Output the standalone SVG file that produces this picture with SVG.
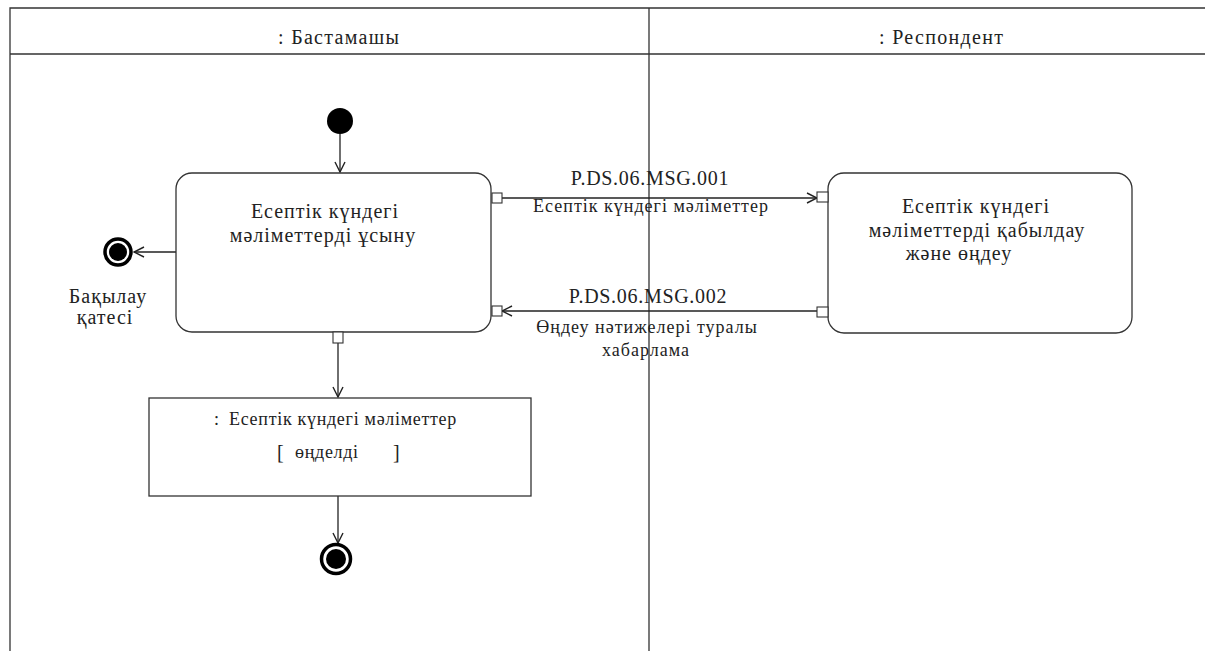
<svg xmlns="http://www.w3.org/2000/svg" width="1205" height="651" viewBox="0 0 1205 651">
<style>
text{font-family:"Liberation Serif","Times New Roman","DejaVu Serif",serif;fill:#222}
.lane{stroke:#333;stroke-width:1.3;fill:none}
.act{fill:#fff;stroke:#333;stroke-width:1.3}
.pin{fill:#fff;stroke:#333;stroke-width:1.1}
.edge{stroke:#222;stroke-width:1.3;fill:none;marker-end:url(#arr)}
.hd{font-size:20px;letter-spacing:1.3px}
.big{font-size:20px;letter-spacing:1px}
.msg{font-size:20px;letter-spacing:0.7px}
.sub{font-size:18px;letter-spacing:1px}
.obj{font-size:18px;letter-spacing:0.7px}
.fin{fill:#fff;stroke:#000;stroke-width:3.5}
</style>
<defs>
<marker id="arr" viewBox="0 0 12 12" refX="11" refY="6" markerWidth="12" markerHeight="12" markerUnits="userSpaceOnUse" orient="auto">
<path d="M1,1 L11,6 L1,11" fill="none" stroke="#222" stroke-width="1.4"/>
</marker>
</defs>
<rect width="1205" height="651" fill="#fff"/>
<g id="lanes">
<path class="lane" d="M10,651 V8 H1205 M10,54 H1205 M649,8 V651"/>
<text class="hd" x="278" y="44">: Бастамашы</text>
<text class="hd" x="879" y="44">: Респондент</text>
</g>
<g id="connectors">
<line class="edge" x1="340" y1="134" x2="340" y2="172"/>
<line class="edge" x1="176" y1="252" x2="134" y2="252"/>
<line class="edge" x1="502" y1="198" x2="817" y2="198"/>
<line class="edge" x1="817" y1="311" x2="502" y2="311"/>
<line class="edge" x1="338" y1="343" x2="338" y2="397"/>
<line class="edge" x1="338" y1="496" x2="338" y2="543"/>
<text class="msg" x="650" y="185" text-anchor="middle">P.DS.06.MSG.001</text>
<text class="sub" x="651" y="212" text-anchor="middle">Есептік күндегі мәліметтер</text>
<text class="msg" x="648" y="303" text-anchor="middle">P.DS.06.MSG.002</text>
<text class="sub" x="647" y="333" text-anchor="middle">Өңдеу нәтижелері туралы</text>
<text class="sub" x="646" y="356" text-anchor="middle">хабарлама</text>
</g>
<g id="start">
<circle cx="340" cy="121" r="13" fill="#000"/>
</g>
<g id="action1">
<rect class="act" x="176" y="173" width="315" height="159" rx="16"/>
<text class="big" x="325" y="218" text-anchor="middle">Есептік күндегі</text>
<text class="big" x="323" y="242" text-anchor="middle">мәліметтерді ұсыну</text>
<rect class="pin" x="492" y="193" width="10" height="10"/>
<rect class="pin" x="492" y="306" width="10" height="10"/>
<rect class="pin" x="333" y="332" width="10" height="11"/>
</g>
<g id="final-error">
<circle class="fin" cx="118" cy="252" r="13"/>
<circle cx="118" cy="252" r="9" fill="#000"/>
<text class="big" x="108" y="303" text-anchor="middle">Бақылау</text>
<text class="big" x="105" y="324" text-anchor="middle">қатесі</text>
</g>
<g id="action2">
<rect class="act" x="828" y="173" width="304" height="160" rx="16"/>
<text class="big" x="976" y="213" text-anchor="middle">Есептік күндегі</text>
<text class="big" x="977" y="237" text-anchor="middle">мәліметтерді қабылдау</text>
<text class="big" x="959" y="260" text-anchor="middle">және өңдеу</text>
<rect class="pin" x="817" y="192" width="11" height="10"/>
<rect class="pin" x="817" y="307" width="11" height="10"/>
</g>
<g id="object">
<rect class="act" x="149" y="398" width="382" height="98"/>
<text class="obj" x="214" y="425">:</text>
<text class="obj" x="229" y="425">Есептік күндегі мәліметтер</text>
<text class="big" x="277" y="459">[</text>
<text class="obj" x="295" y="458">өңделді</text>
<text class="big" x="393" y="459">]</text>
</g>
<g id="final">
<circle class="fin" cx="336" cy="559" r="14.5"/>
<circle cx="336" cy="559" r="10" fill="#000"/>
</g>
</svg>
